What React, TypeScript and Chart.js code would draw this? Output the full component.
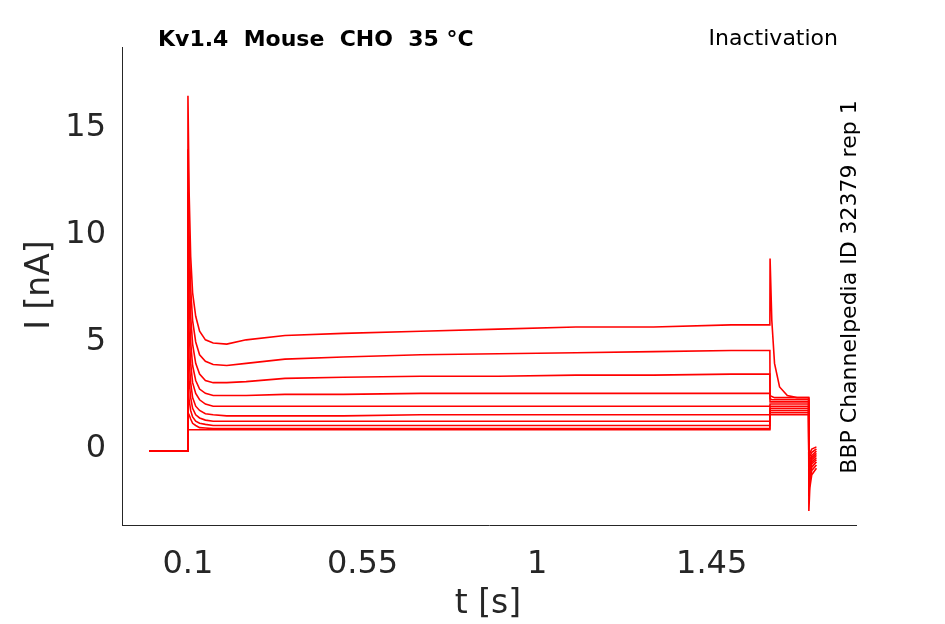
import React, { useEffect, useRef } from "react";
import { Chart, registerables } from "chart.js";
Chart.register(...registerables);

const times = [0, 0.0995, 0.1, 0.103, 0.107, 0.112, 0.12, 0.13, 0.145, 0.165, 0.2, 0.25, 0.35, 0.5, 0.7, 0.9, 1.1, 1.3, 1.5, 1.6, 1.6005, 1.605, 1.612, 1.625, 1.645, 1.67, 1.7, 1.7005, 1.703, 1.708, 1.72];
const trace1 = [-0.1, -0.1, 16.5, 12, 9, 7.3, 6.2, 5.5, 5.1, 4.95, 4.9, 5.1, 5.3, 5.4, 5.5, 5.6, 5.7, 5.7, 5.8, 5.8, 8.9, 6.0, 4.0, 2.9, 2.5, 2.4, 2.4, -2.9, -1.8, -1.2, -0.9];
const trace2 = [-0.1, -0.1, 14, 10, 7.5, 6, 5, 4.4, 4.1, 3.95, 3.9, 4.0, 4.2, 4.3, 4.4, 4.45, 4.5, 4.55, 4.6, 4.6, 2.5, 2.45, 2.4, 2.4, 2.4, 2.4, 2.4, -2.2, -1.5, -1.0, -0.75];
const trace3 = [-0.1, -0.1, 12, 8.5, 6.2, 4.9, 4.0, 3.5, 3.2, 3.1, 3.1, 3.15, 3.3, 3.35, 3.4, 3.4, 3.45, 3.45, 3.5, 3.5, 2.35, 2.3, 2.3, 2.3, 2.3, 2.3, 2.3, -1.9, -1.3, -0.85, -0.6];
const trace4 = [-0.1, -0.1, 10, 7, 5, 3.9, 3.2, 2.8, 2.6, 2.5, 2.5, 2.5, 2.55, 2.55, 2.6, 2.6, 2.6, 2.6, 2.6, 2.6, 2.2, 2.2, 2.2, 2.2, 2.2, 2.2, 2.2, -1.6, -1.1, -0.7, -0.5];
const trace5 = [-0.1, -0.1, 8, 5.5, 4, 3.1, 2.6, 2.3, 2.1, 2.0, 2.0, 2.0, 2.0, 2.0, 2.0, 2.0, 2.0, 2.0, 2.0, 2.0, 2.1, 2.1, 2.1, 2.1, 2.1, 2.1, 2.1, -1.4, -0.95, -0.6, -0.4];
const trace6 = [-0.1, -0.1, 6, 4.2, 3.1, 2.4, 2.0, 1.8, 1.65, 1.6, 1.55, 1.55, 1.55, 1.55, 1.6, 1.6, 1.6, 1.6, 1.6, 1.6, 2.0, 2.0, 2.0, 2.0, 2.0, 2.0, 2.0, -1.2, -0.8, -0.5, -0.3];
const trace7 = [-0.1, -0.1, 4.5, 3.2, 2.4, 1.9, 1.6, 1.45, 1.35, 1.3, 1.3, 1.3, 1.3, 1.3, 1.3, 1.3, 1.3, 1.3, 1.3, 1.3, 1.9, 1.9, 1.9, 1.9, 1.9, 1.9, 1.9, -1.0, -0.65, -0.4, -0.2];
const trace8 = [-0.1, -0.1, 3, 2.3, 1.8, 1.5, 1.3, 1.2, 1.15, 1.1, 1.1, 1.1, 1.1, 1.1, 1.1, 1.1, 1.1, 1.1, 1.1, 1.1, 1.8, 1.8, 1.8, 1.8, 1.8, 1.8, 1.8, -0.8, -0.5, -0.3, -0.1];
const trace9 = [-0.1, -0.1, 1.7, 1.6, 1.4, 1.2, 1.1, 1.0, 0.98, 0.95, 0.95, 0.95, 0.95, 0.95, 0.95, 0.95, 0.95, 0.95, 0.95, 0.95, 1.7, 1.7, 1.7, 1.7, 1.7, 1.7, 1.7, -0.6, -0.35, -0.15, 0.0];
const trace10 = [-0.1, -0.1, 0.9, 0.9, 0.9, 0.9, 0.9, 0.9, 0.9, 0.9, 0.9, 0.9, 0.9, 0.9, 0.9, 0.9, 0.9, 0.9, 0.9, 0.9, 1.6, 1.6, 1.6, 1.6, 1.6, 1.6, 1.6, -0.4, -0.2, 0.0, 0.1];
const traces = [trace1, trace2, trace3, trace4, trace5, trace6, trace7, trace8, trace9, trace10];
const xTicks = [0.1, 0.55, 1, 1.45];
const xTickLabels = ["0.1", "0.55", "1", "1.45"];
const yTicks = [0, 5, 10, 15];

const FONT = "'DejaVu Sans', sans-serif";
const TXT = "#262626";

export default function App() {
  const ref = useRef<HTMLCanvasElement>(null);
  useEffect(() => {
    const textPlugin = {
      id: "txt",
      afterDraw(c: any) {
        const ctx = c.ctx;
        ctx.save();
        ctx.fillStyle = "#000";
        ctx.textBaseline = "middle";
        ctx.font = `bold 22px ${FONT}`;
        ctx.textAlign = "left";
        ctx.fillText("Kv1.4  Mouse  CHO  35 °C", 158, 40);
        ctx.font = `22px ${FONT}`;
        ctx.textAlign = "right";
        ctx.fillText("Inactivation", 838, 39);
        ctx.save();
        ctx.translate(850, 287);
        ctx.rotate(-Math.PI / 2);
        ctx.textAlign = "center";
        ctx.fillText("BBP Channelpedia ID 32379 rep 1", 0, 0);
        ctx.restore();
        ctx.fillStyle = TXT;
        ctx.font = `33px ${FONT}`;
        ctx.textAlign = "center";
        ctx.fillText("t [s]", 488, 604);
        ctx.save();
        ctx.translate(40, 285);
        ctx.rotate(-Math.PI / 2);
        ctx.fillText("I [nA]", 0, 0);
        ctx.restore();
        ctx.restore();
      },
    };
    const chart = new Chart(ref.current!, {
      type: "line",
      data: {
        datasets: traces.map((t) => ({
          data: t.map((v, i) => ({ x: times[i], y: v })),
          borderColor: "#ff0000",
          borderWidth: 1.6,
          pointRadius: 0,
          tension: 0,
          fill: false,
        })),
      },
      options: {
        animation: false,
        responsive: false,
        layout: { padding: { top: 47, right: 89, left: 0, bottom: 0 } },
        plugins: { legend: { display: false }, tooltip: { enabled: false } },
        scales: {
          x: {
            type: "linear",
            min: -0.07,
            max: 1.822,
            grid: { display: false, drawTicks: false },
            border: { color: TXT, width: 1 },
            afterBuildTicks: (s: any) => { s.ticks = xTicks.map((v) => ({ value: v })); },
            afterFit: (s: any) => { s.height = 99; },
            ticks: {
              padding: 20,
              color: TXT,
              font: { family: FONT, size: 32 },
              callback: (v: any) => xTickLabels[xTicks.indexOf(v)] ?? String(v),
              maxRotation: 0,
            },
          },
          y: {
            min: -3.55,
            max: 18.78,
            grid: { display: false, drawTicks: false },
            border: { color: TXT, width: 1 },
            afterBuildTicks: (s: any) => { s.ticks = yTicks.map((v) => ({ value: v })); },
            afterFit: (s: any) => { s.width = 122; },
            ticks: { padding: 16, color: TXT, font: { family: FONT, size: 32 } },
          },
        },
      },
      plugins: [textPlugin],
    });
    return () => chart.destroy();
  }, []);
  return (
    <div style={{ position: "absolute", left: 0, top: 0, width: 945, height: 624, background: "#fff" }}>
      <canvas ref={ref} width={945} height={624} style={{ width: 945, height: 624 }} />
    </div>
  );
}
